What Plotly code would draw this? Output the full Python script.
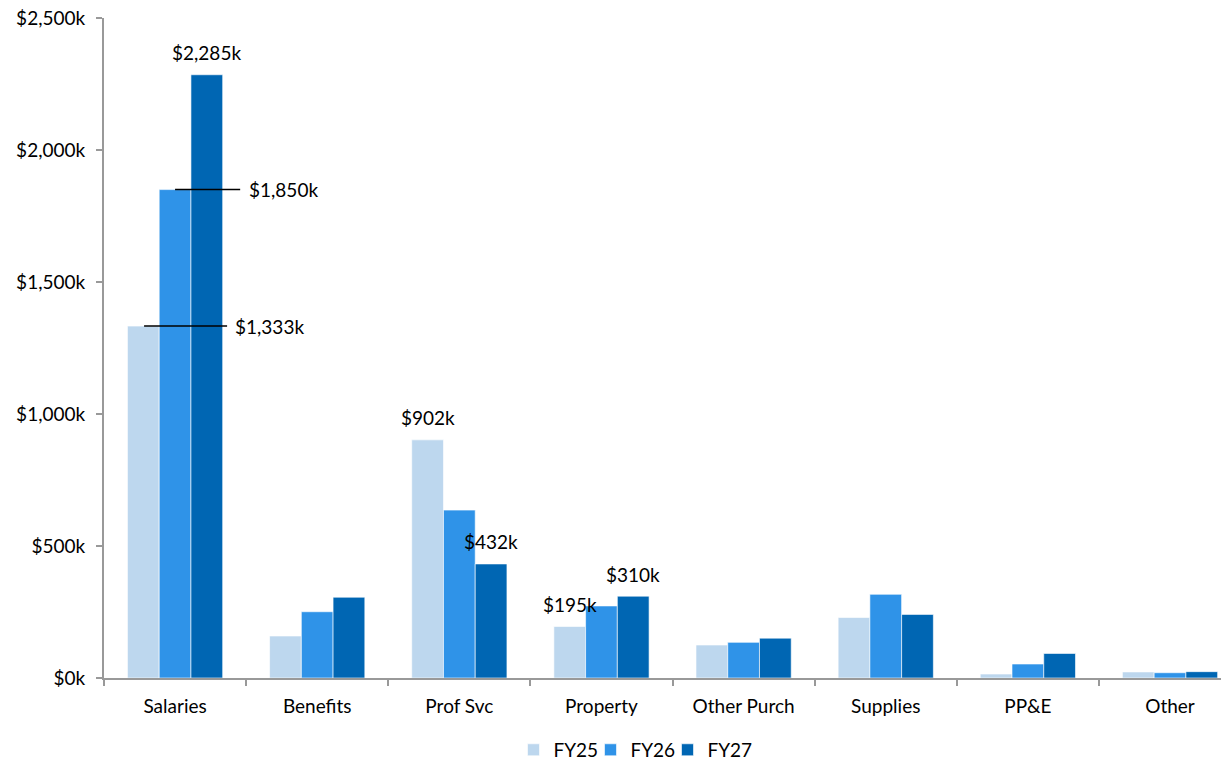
import plotly.graph_objects as go

categories = ["Salaries", "Benefits", "Prof Svc", "Property", "Other Purch", "Supplies", "PP&E", "Other"]
fy25 = [1333, 159, 902, 195, 125, 229, 15, 23]
fy26 = [1850, 251, 636, 273, 135, 317, 53, 20]
fy27 = [2285, 306, 432, 310, 151, 241, 93, 24]
series_names = ["FY25", "FY26", "FY27"]
colors = ["#BDD7EE", "#2F93E8", "#0066B3"]

FONT = "Lato"
FS = 19
fig = go.Figure()
for name, vals, col in zip(series_names, [fy25, fy26, fy27], colors):
    fig.add_trace(go.Bar(x=categories, y=vals, name=name, marker_color=col,
                         marker_line=dict(color="rgba(255,255,255,0.6)", width=1)))
# invisible spacer entry so the last legend label is not clipped
fig.add_trace(go.Scatter(x=[None], y=[None], mode="markers", name=" ",
                         marker=dict(color="rgba(0,0,0,0)"), hoverinfo="skip"))

bargap = 0.33
bw = (1 - bargap) / 3
offsets = [-bw, 0, bw]

def fmt(v):
    return f"${v:,}k"

# labels above bars
above = [(0, 2), (2, 0), (2, 2), (3, 0), (3, 2)]
data = [fy25, fy26, fy27]
for ci, si in above:
    v = data[si][ci]
    fig.add_annotation(x=ci + offsets[si], y=v, xref="x", yref="y", text=fmt(v),
                       showarrow=False, yanchor="middle", yshift=22,
                       font=dict(size=FS, color="#000", family=FONT))

# leader-line labels
leaders = [(0, 0, -0.218, 0.366, 0.41), (0, 1, 0.0, 0.458, 0.505)]
for ci, si, x0, x1, xt in leaders:
    v = data[si][ci]
    fig.add_shape(type="line", xref="x", yref="y", x0=ci + x0, x1=ci + x1, y0=v, y1=v,
                  line=dict(color="#000", width=1.5))
    fig.add_annotation(x=ci + xt, y=v, xref="x", yref="y", text=fmt(v), showarrow=False,
                       xanchor="left", yanchor="middle",
                       font=dict(size=FS, color="#000", family=FONT))

fig.update_layout(
    width=1221, height=754,
    margin=dict(l=96, r=0, t=10, b=84, autoexpand=False),
    paper_bgcolor="white", plot_bgcolor="white",
    barmode="group", bargap=bargap, bargroupgap=0,
    font=dict(family=FONT, size=FS, color="#000"),
    showlegend=True,
    legend=dict(orientation="h", x=0.364, xanchor="left", y=0.016, yanchor="middle",
                yref="container",
                font=dict(size=FS, family=FONT), itemwidth=30, traceorder="normal",
                entrywidth=32, entrywidthmode="pixels"),
    xaxis=dict(type="category", range=[-0.5, 7.415], tickson="boundaries",
               ticks="outside", ticklen=6, tickcolor="#999", tickwidth=2,
               showline=True, linecolor="#999", linewidth=2, showgrid=False,
               ticklabelstandoff=10,
               tickfont=dict(size=FS, family=FONT, color="#000")),
    yaxis=dict(range=[0, 2500], dtick=500, tickprefix="$", ticksuffix="k", tickformat=",",
               ticks="outside", ticklen=6, tickcolor="#999", tickwidth=2,
               showline=True, linecolor="#999", linewidth=2, showgrid=False, zeroline=False,
               ticklabelstandoff=7, ticklabeloverflow="allow",
               tickfont=dict(size=FS, family=FONT, color="#000")),
)
fig.write_html("out.html")
